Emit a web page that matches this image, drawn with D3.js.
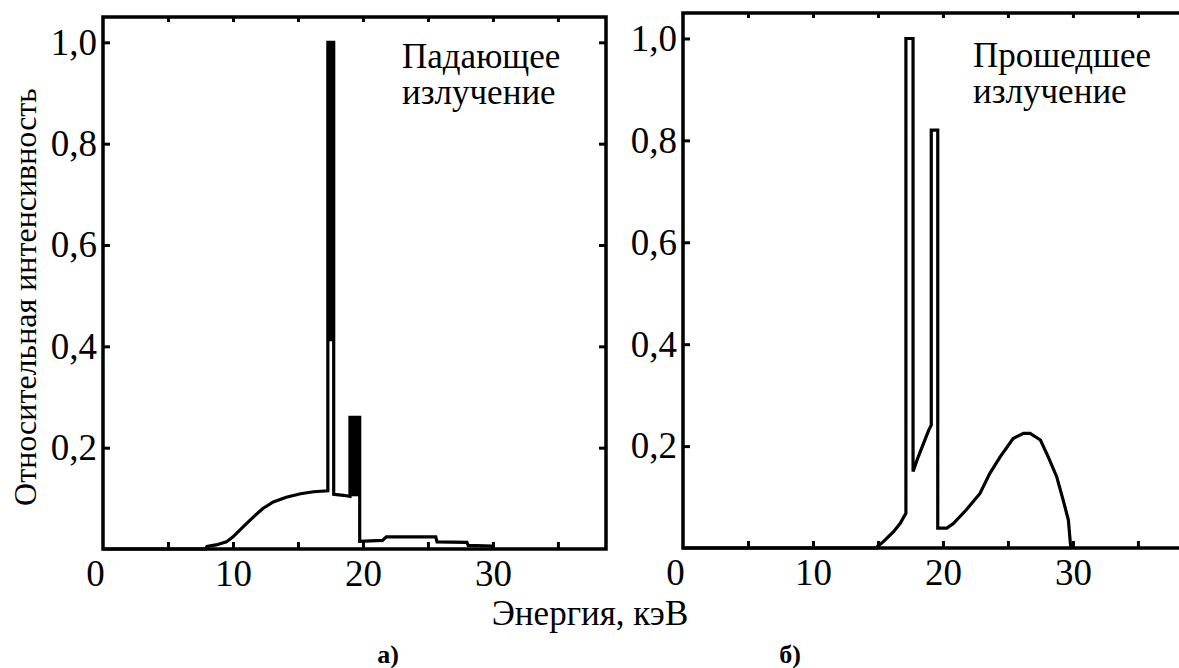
<!DOCTYPE html>
<html>
<head>
<meta charset="utf-8">
<script src="https://cdn.jsdelivr.net/npm/d3@7"></script>
</head>
<body style="margin:0">
<script>
// tick values and labels
var yTicks = [0.2, 0.4, 0.6, 0.8, 1.0];
var yTickLabels = ["0,2", "0,4", "0,6", "0,8", "1,0"];
var xLabelTicks = [0, 10, 20, 30];
var xMinorTicks = [5, 10, 15, 20, 25, 30, 35];

// а) incident spectrum (energy keV, relative intensity)
var incidentE = [0, 7.9, 8.0, 8.7, 9.5, 10.0, 10.8, 11.6, 12.3, 13.1, 14.1, 15.2, 16.2, 17.3,
    17.3, 17.75, 17.75, 18.5, 19.0, 19.0, 19.75, 19.75, 21.5, 21.8, 25.6, 25.7, 28.0, 28.1, 29.9, 30.0, 40];
var incidentI = [0, 0, 0.005, 0.008, 0.014, 0.024, 0.044, 0.064, 0.080, 0.093, 0.102, 0.109, 0.113, 0.115,
    1.0, 1.0, 0.108, 0.106, 0.104, 0.26, 0.26, 0.015, 0.017, 0.024, 0.024, 0.014, 0.013, 0.007, 0.006, 0, 0];
// filled parts of the incident lines: [e0, e1, i0, i1]
var incidentSolid = [[17.3, 17.75, 0.41, 1.0], [19.0, 19.75, 0.104, 0.26]];

// б) transmitted spectrum
var transmittedE = [0, 14.9, 15.0, 15.4, 16.2, 16.7, 17.15, 17.15, 17.7, 17.7, 18.1, 18.5, 18.9, 19.1,
    19.1, 19.6, 19.6, 20.3, 20.8, 21.8, 22.85, 23.6, 24.4, 25.4, 26.2, 26.7, 27.5, 28.1, 28.75, 29.25,
    29.65, 29.8, 29.85, 40];
var transmittedI = [0, 0, 0.004, 0.012, 0.032, 0.048, 0.068, 1.0, 1.0, 0.15, 0.179, 0.205, 0.231, 0.241,
    0.82, 0.82, 0.039, 0.039, 0.048, 0.075, 0.107, 0.146, 0.179, 0.215, 0.225, 0.225, 0.212, 0.179, 0.14, 0.094,
    0.055, 0.01, 0, 0];

var width = 1179, height = 668;
var FONT = "'Liberation Serif'";

var svg = d3.select("body").append("svg")
    .attr("width", width)
    .attr("height", height);

// every text of the figure goes through here so that it gets the serif face
function label(sel) {
    return sel.attr("font-family", "Liberation Serif").style("font-family", FONT).attr("fill", "#000");
}

// draws one panel: frame, ticks, tick labels and the spectrum
function drawPanel(p) {
    var x = d3.scaleLinear().domain([0, 38.7]).range([p.left, p.right]);
    var y = d3.scaleLinear().domain([0, 1.05]).range([p.bottom, p.top]);
    var g = svg.append("g");

    // ticks pointing into the plot
    g.append("g").attr("transform", "translate(0," + p.top + ")")
        .call(d3.axisBottom(x).tickValues(xMinorTicks).tickSize(5).tickFormat(""));
    g.append("g").attr("transform", "translate(0," + p.bottom + ")")
        .call(d3.axisTop(x).tickValues(xMinorTicks).tickSize(7).tickFormat(""));
    g.append("g").attr("transform", "translate(" + p.left + ",0)")
        .call(d3.axisRight(y).tickValues(yTicks).tickSize(7).tickFormat(""));
    if (p.rightBorder) {
        g.append("g").attr("transform", "translate(" + p.right + ",0)")
            .call(d3.axisLeft(y).tickValues(yTicks).tickSize(7).tickFormat(""));
    }
    g.selectAll(".domain").remove();
    g.selectAll(".tick text").remove();
    g.selectAll(".tick line").attr("stroke", "#000").attr("stroke-width", 3);

    // tick labels
    var yl = g.append("g").attr("transform", "translate(" + p.left + ",0)")
        .call(d3.axisLeft(y).tickValues(yTicks).tickSize(0).tickPadding(6)
            .tickFormat(function (d, i) { return yTickLabels[i]; }));
    var xl = g.append("g").attr("transform", "translate(0," + p.bottom + ")")
        .call(d3.axisBottom(x).tickValues(xLabelTicks).tickSize(0).tickPadding(11)
            .tickFormat(function (d) { return d; }));
    xl.selectAll(".tick").filter(function (d) { return d === 0; })
        .select("text").attr("dx", -8);
    [yl, xl].forEach(function (a) {
        a.select(".domain").remove();
        a.attr("font-family", "Liberation Serif").attr("font-size", 37);
        label(a.selectAll("text")).attr("font-size", 37);
    });

    // frame
    var frame = d3.path();
    if (p.rightBorder) {
        frame.rect(p.left, p.top, p.right - p.left, p.bottom - p.top);
    } else {
        frame.moveTo(width + 5, p.top);
        frame.lineTo(p.left, p.top);
        frame.lineTo(p.left, p.bottom);
        frame.lineTo(width + 5, p.bottom);
    }
    g.append("path").attr("d", frame.toString())
        .attr("fill", "none").attr("stroke", "#000").attr("stroke-width", 3.5);

    // spectrum
    var line = d3.line()
        .x(function (d) { return x(d[0]); })
        .y(function (d) { return y(d[1]); });
    var pts = p.energy.map(function (e, i) { return [e, p.intensity[i]]; })
        .filter(function (d) { return d[0] <= 38.7; });
    g.append("path").datum(pts)
        .attr("d", line)
        .attr("fill", "none").attr("stroke", "#000")
        .attr("stroke-width", 3.2).attr("stroke-linejoin", "miter");

    g.selectAll(".solid").data(p.solid || []).enter().append("rect")
        .attr("class", "solid")
        .attr("x", function (d) { return x(d[0]); })
        .attr("width", function (d) { return x(d[1]) - x(d[0]); })
        .attr("y", function (d) { return y(d[3]); })
        .attr("height", function (d) { return y(d[2]) - y(d[3]); })
        .attr("fill", "#000");

    // caption inside the plot, one text per line
    p.caption.forEach(function (s, i) {
        label(svg.append("text"))
            .attr("x", p.captionX).attr("y", p.captionY + i * 36)
            .attr("font-size", 35)
            .text(s);
    });
}

drawPanel({
    left: 103, right: 606, top: 17, bottom: 549, rightBorder: true,
    energy: incidentE, intensity: incidentI, solid: incidentSolid,
    caption: ["Падающее", "излучение"], captionX: 402, captionY: 68
});
drawPanel({
    left: 683, right: 1186, top: 13, bottom: 548, rightBorder: false,
    energy: transmittedE, intensity: transmittedI,
    caption: ["Прошедшее", "излучение"], captionX: 973, captionY: 67
});

// axis titles and panel letters
label(svg.append("text"))
    .attr("transform", "translate(36,297) rotate(-90)")
    .attr("text-anchor", "middle")
    .attr("font-size", 32)
    .text("Относительная интенсивность");

label(svg.append("text"))
    .attr("x", 590).attr("y", 625)
    .attr("text-anchor", "middle")
    .attr("font-size", 35)
    .text("Энергия, кэВ");

label(svg.append("text"))
    .attr("x", 388).attr("y", 663)
    .attr("text-anchor", "middle")
    .attr("font-size", 26).attr("font-weight", "bold")
    .text("а)");

label(svg.append("text"))
    .attr("x", 790).attr("y", 663)
    .attr("text-anchor", "middle")
    .attr("font-size", 26).attr("font-weight", "bold")
    .text("б)");
</script>
</body>
</html>
